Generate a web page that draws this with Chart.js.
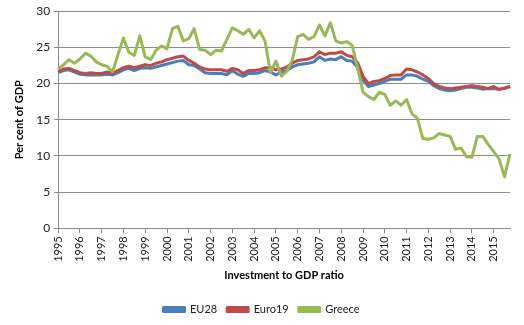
<!DOCTYPE html>
<html>
<head>
<meta charset="utf-8">
<script src="https://cdn.jsdelivr.net/npm/chart.js@4"></script>
<style>
    html, body { margin: 0; padding: 0; background: #fff; }
    #wrap { width: 524px; height: 325px; }
</style>
</head>
<body>
<div id="wrap"><canvas id="chart-inversion"></canvas></div>
<script>
// Investment to GDP ratio, quarterly 1995Q1 - 2015Q4
const YEARS = [
    1995, 1996, 1997, 1998, 1999, 2000, 2001, 2002, 2003, 2004, 2005,
    2006, 2007, 2008, 2009, 2010, 2011, 2012, 2013, 2014, 2015,
];

const EU28 = [
    21.5, 21.8, 21.9, 21.6, 21.3, 21.2, 21.2, 21.2, 21.2, 21.3, 21.2, 21.5,
    21.9, 22.1, 21.8, 22.1, 22.2, 22.1, 22.3, 22.5, 22.7, 22.9, 23.1, 23.2,
    22.6, 22.5, 22.0, 21.5, 21.4, 21.4, 21.4, 21.2, 21.8, 21.3, 21.0, 21.4,
    21.4, 21.5, 21.8, 21.6, 21.2, 21.6, 21.8, 22.3, 22.6, 22.7, 22.8, 23.0,
    23.7, 23.2, 23.4, 23.3, 23.7, 23.2, 23.1, 22.2, 20.5, 19.6, 19.8, 20.0,
    20.3, 20.6, 20.6, 20.6, 21.2, 21.2, 21.0, 20.6, 20.3, 19.7, 19.3, 19.1,
    19.0, 19.1, 19.3, 19.5, 19.5, 19.4, 19.2, 19.3, 19.3, 19.2, 19.3, 19.6,
];

const EURO19 = [
    21.7, 22.0, 22.1, 21.8, 21.5, 21.4, 21.5, 21.4, 21.4, 21.6, 21.4, 21.8,
    22.2, 22.4, 22.2, 22.4, 22.6, 22.5, 22.8, 23.0, 23.3, 23.5, 23.7, 23.8,
    23.2, 22.8, 22.3, 22.0, 21.9, 21.9, 21.9, 21.7, 22.1, 21.9, 21.4, 21.8,
    21.8, 21.9, 22.2, 22.2, 21.9, 22.0, 22.3, 22.8, 23.2, 23.3, 23.4, 23.7,
    24.4, 24.0, 24.2, 24.2, 24.4, 23.9, 23.7, 22.9, 21.0, 20.0, 20.3, 20.4,
    20.7, 21.1, 21.2, 21.2, 22.0, 21.9, 21.6, 21.2, 20.7, 20.0, 19.6, 19.4,
    19.3, 19.4, 19.5, 19.6, 19.7, 19.6, 19.5, 19.3, 19.6, 19.2, 19.4, 19.6,
];

const GREECE = [
    22.0, 22.6, 23.3, 22.8, 23.4, 24.2, 23.8, 23.0, 22.6, 22.4, 21.6, 24.0,
    26.3, 24.3, 23.9, 26.6, 23.7, 23.3, 24.6, 25.2, 24.8, 27.6, 27.9, 25.9,
    26.2, 27.6, 24.7, 24.6, 24.0, 24.6, 24.5, 26.1, 27.7, 27.3, 26.8, 27.5,
    26.3, 27.3, 25.9, 21.5, 23.1, 21.0, 21.7, 23.2, 26.5, 26.8, 26.1, 26.5,
    28.1, 26.6, 28.4, 25.9, 25.6, 25.8, 25.3, 22.2, 18.8, 18.2, 17.8, 18.8,
    18.5, 17.0, 17.6, 17.0, 17.8, 15.8, 15.2, 12.4, 12.3, 12.5, 13.1, 12.9,
    12.7, 10.9, 11.1, 9.9, 9.8, 12.7, 12.7, 11.6, 10.6, 9.6, 7.1, 10.3,
];

const Y_TICKS = [0, 5, 10, 15, 20, 25, 30];

const FONT = "Lato, 'Liberation Sans', sans-serif";
const GRIS = "#8c8c8c";

const labels = [];
YEARS.forEach(function (y) {
    for (let q = 1; q <= 4; q++) labels.push(y + " Q" + q);
});

function serie(label, data, color, order) {
    return {
        label: label,
        data: data,
        borderColor: color,
        backgroundColor: color,
        borderWidth: 3,
        pointRadius: 0,
        tension: 0,
        borderJoinStyle: "round",
        order: order,
    };
}

const ctx = document.getElementById("chart-inversion").getContext("2d");

new Chart(ctx, {
    type: "line",
    data: {
        labels: labels,
        datasets: [
            serie("EU28", EU28, "#4A7EBB", 3),
            serie("Euro19", EURO19, "#BE4B48", 2),
            serie("Greece", GREECE, "#98B954", 1),
        ],
    },
    options: {
        responsive: true,
        maintainAspectRatio: false,
        animation: false,
        layout: { padding: { left: 13, right: 14, top: 11, bottom: 0 } },
        plugins: {
            legend: {
                position: "bottom",
                labels: {
                    sort: (a, b) => a.datasetIndex - b.datasetIndex,
                    boxWidth: 21,
                    boxHeight: 4,
                    padding: 10,
                    color: "#222",
                    font: { family: FONT, size: 11 },
                },
            },
            tooltip: { enabled: false },
        },
        scales: {
            x: {
                offset: false,
                title: {
                    display: true,
                    text: "Investment to GDP ratio",
                    color: "#000",
                    font: { family: FONT, size: 11, weight: "bold" },
                    padding: { top: 4, bottom: 12 },
                },
                ticks: {
                    autoSkip: false,
                    maxRotation: 90,
                    minRotation: 90,
                    color: "#222",
                    font: { family: FONT, size: 11 },
                    callback: function (val, i) {
                        return i % 4 === 0 ? String(YEARS[i / 4]) : null;
                    },
                },
                grid: {
                    drawOnChartArea: false,
                    tickLength: 5,
                    color: GRIS,
                },
                border: { color: GRIS },
            },
            y: {
                min: Y_TICKS[0],
                max: Y_TICKS[Y_TICKS.length - 1],
                title: {
                    display: true,
                    text: "Per cent of GDP",
                    color: "#000",
                    font: { family: FONT, size: 11, weight: "bold" },
                    padding: { top: 0, bottom: 6 },
                },
                afterBuildTicks: function (axis) {
                    axis.ticks = Y_TICKS.map(v => ({ value: v }));
                },
                ticks: {
                    color: "#222",
                    padding: 4,
                    font: { family: FONT, size: 12 },
                },
                grid: {
                    color: GRIS,
                    tickLength: 4,
                },
                border: { color: GRIS },
            },
        },
    },
});
</script>
</body>
</html>
